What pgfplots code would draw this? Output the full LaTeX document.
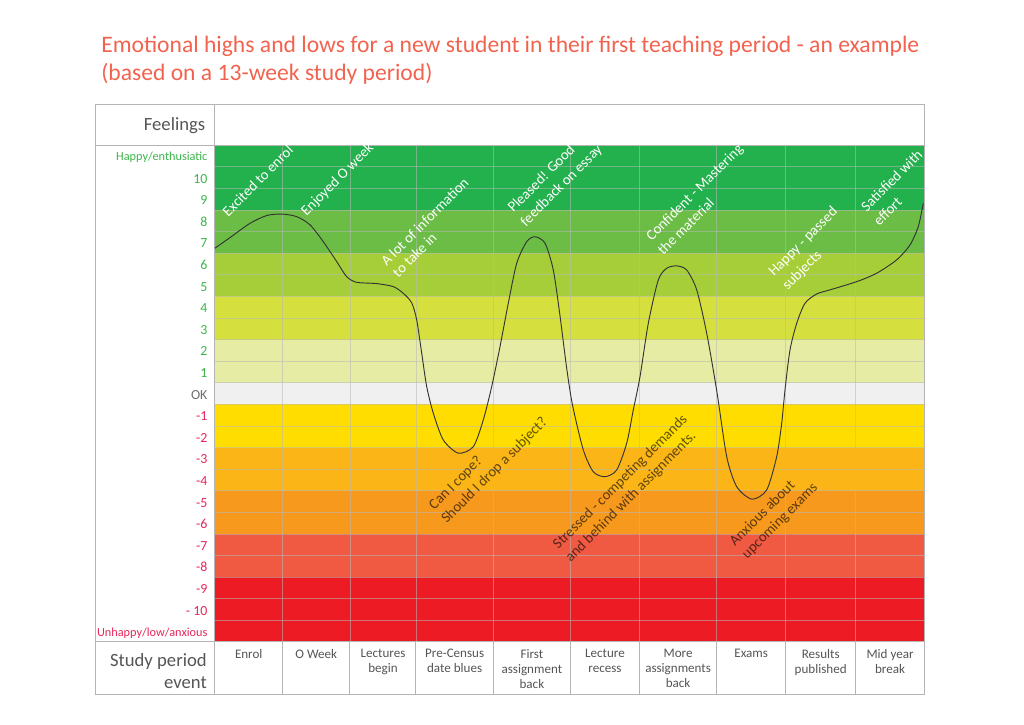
\documentclass[border=0pt]{standalone}
\usepackage{pgfplots}
\pgfplotsset{compat=1.18}
\usepackage{fontspec}
\setmainfont{Carlito}
\definecolor{bA}{HTML}{22B14C}
\definecolor{bB}{HTML}{6BBD45}
\definecolor{bC}{HTML}{A6CE39}
\definecolor{bD}{HTML}{D5DF3E}
\definecolor{bE}{HTML}{E6ECA4}
\definecolor{bF}{HTML}{F0F0F0}
\definecolor{bG}{HTML}{FFDD00}
\definecolor{bH}{HTML}{FCB517}
\definecolor{bI}{HTML}{F7991D}
\definecolor{bJ}{HTML}{F05A42}
\definecolor{bK}{HTML}{ED1C24}
\definecolor{titlec}{HTML}{F2634F}
\definecolor{posc}{HTML}{3BB54A}
\definecolor{negc}{HTML}{E5265B}
\definecolor{okc}{HTML}{6E6E6E}
\definecolor{labc}{HTML}{555555}
\definecolor{framec}{HTML}{B4B4B4}
\definecolor{curvec}{HTML}{333333}
\tikzset{
  annW/.style={rotate=45, anchor=base west, inner sep=0pt, text=white, font=\fontsize{11pt}{13pt}\selectfont},
  annD/.style={rotate=45, anchor=base west, inner sep=0pt, text=black, text opacity=0.62, font=\fontsize{11pt}{13pt}\selectfont},
  ylab/.style={anchor=base east, inner sep=0pt, font=\fontsize{9.2pt}{11pt}\selectfont},
  ynum/.style={anchor=base east, inner sep=0pt, font=\fontsize{10.4pt}{12pt}\selectfont},
  xlab/.style={anchor=north, inner sep=0pt, align=center, text=labc, font=\fontsize{9.8pt}{11.25pt}\selectfont},
  gridl/.style={draw=gray!55, draw opacity=0.55, line width=0.6pt},
  framel/.style={draw=framec, line width=0.75pt},
}
\begin{document}
\begin{tikzpicture}
\begin{axis}[
  width=532.125pt, height=372.6pt, scale only axis,
  xmin=215, xmax=924.5, ymin=-11.5, ymax=11.5,
  hide axis, clip=false]
\path (axis cs:0,18.22) rectangle (axis cs:1024,-15.30);
% colour bands
\fill[bA] (axis cs:215,8.5) rectangle (axis cs:924.5,11.5);
\fill[bB] (axis cs:215,6.5) rectangle (axis cs:924.5,8.5);
\fill[bC] (axis cs:215,4.5) rectangle (axis cs:924.5,6.5);
\fill[bD] (axis cs:215,2.5) rectangle (axis cs:924.5,4.5);
\fill[bE] (axis cs:215,0.5) rectangle (axis cs:924.5,2.5);
\fill[bF] (axis cs:215,-0.5) rectangle (axis cs:924.5,0.5);
\fill[bG] (axis cs:215,-2.5) rectangle (axis cs:924.5,-0.5);
\fill[bH] (axis cs:215,-4.5) rectangle (axis cs:924.5,-2.5);
\fill[bI] (axis cs:215,-6.5) rectangle (axis cs:924.5,-4.5);
\fill[bJ] (axis cs:215,-8.5) rectangle (axis cs:924.5,-6.5);
\fill[bK] (axis cs:215,-11.5) rectangle (axis cs:924.5,-8.5);
% grid
\pgfplotsinvokeforeach{10.5,9.5,8.5,7.5,6.5,5.5,4.5,3.5,2.5,1.5,0.5,-0.5,-1.5,-2.5,-3.5,-4.5,-5.5,-6.5,-7.5,-8.5,-9.5,-10.5}{
  \draw[gridl] (axis cs:215,#1) -- (axis cs:924.5,#1);
}
\pgfplotsinvokeforeach{282.5,350,416,493.3,570.5,639.5,716.7,785.7,855.7}{
  \draw[gridl] (axis cs:#1,11.5) -- (axis cs:#1,-11.5);
  \draw[framel] (axis cs:#1,-11.5) -- (axis cs:#1,-13.95);
}
% frame
\draw[framel] (axis cs:96,13.36) rectangle (axis cs:924.5,-13.95);
\draw[framel] (axis cs:215,13.36) -- (axis cs:215,-13.95);
\draw[framel] (axis cs:96,11.5) -- (axis cs:924.5,11.5);
\draw[framel] (axis cs:96,-11.5) -- (axis cs:924.5,-11.5);
% curve
\addplot[smooth, tension=0.45, line width=0.7pt, color=curvec] table {
x y
215 6.73
230 7.22
250 7.88
266.7 8.24
281.7 8.31
296.7 8.19
310 7.81
323.3 7.03
336.7 6.11
346.7 5.41
356.7 5.15
376.7 5.09
393.3 4.95
403.3 4.64
411.7 4.20
416.7 3.41
421.7 1.87
426.7 0.32
433.3 -0.91
443.3 -2.15
458.3 -2.76
473.3 -2.46
483.3 -1.22
491.7 0.32
500 2.17
508.3 4.18
516.7 6.03
526.7 7.03
535 7.26
545 6.96
553.3 5.72
560 3.6
566.7 1.17
572.5 -0.53
583.3 -2.61
593.3 -3.62
605 -3.85
616.7 -3.54
626.7 -2.30
633.3 -0.76
640 0.78
648.3 3.25
658.3 5.26
666.7 5.80
676.7 5.91
686.7 5.72
696.7 4.80
706.7 2.79
716.7 0.14
726.7 -2.92
736.7 -4.31
752 -4.89
766.7 -4.46
776.7 -2.92
781.7 -1.38
785 0.17
790 2.02
796.7 3.25
805 4.18
816.7 4.61
830 4.80
856.7 5.18
876.7 5.57
896.7 6.19
910 6.88
918.3 7.73
923.3 8.81
};
% annotations (upper, white)
\node[annW] at (axis cs:228.3,8.16) {Excited to enrol};
\node[annW] at (axis cs:306.5,8.19) {Enjoyed O week};
\node[annW] at (axis cs:386.7,5.87) {A lot of information};
\node[annW] at (axis cs:398.3,5.34) {to take in};
\node[annW] at (axis cs:513.3,8.35) {Pleased! Good};
\node[annW] at (axis cs:526,7.70) {feedback on essay};
\node[annW] at (axis cs:651.7,7.03) {Confident - Mastering};
\node[annW] at (axis cs:663.3,6.37) {the material};
\node[annW] at (axis cs:774,5.41) {Happy - passed};
\node[annW] at (axis cs:787.7,4.76) {subjects};
\node[annW] at (axis cs:866.7,8.38) {Satisfied with};
\node[annW] at (axis cs:879.3,7.73) {effort};
% annotations (lower, dark)
\node[annD] at (axis cs:434.3,-5.42) {Can I cope?};
\node[annD] at (axis cs:446.7,-6.04) {Should I drop a subject?};
\node[annD] at (axis cs:558.3,-7.24) {Stressed - competing demands};
\node[annD] at (axis cs:570.7,-7.83) {and behind with assignments.};
\node[annD] at (axis cs:735,-7.09) {Anxious about};
\node[annD] at (axis cs:747.3,-7.67) {upcoming exams};
% y labels
\node[ylab, text=posc] at (axis cs:207.7,10.78) {Happy/enthusiatic};
\node[ynum, text=posc] at (axis cs:207.7,9.74) {10};
\node[ynum, text=posc] at (axis cs:207.7,8.74) {9};
\node[ynum, text=posc] at (axis cs:207.7,7.74) {8};
\node[ynum, text=posc] at (axis cs:207.7,6.74) {7};
\node[ynum, text=posc] at (axis cs:207.7,5.74) {6};
\node[ynum, text=posc] at (axis cs:207.7,4.74) {5};
\node[ynum, text=posc] at (axis cs:207.7,3.74) {4};
\node[ynum, text=posc] at (axis cs:207.7,2.74) {3};
\node[ynum, text=posc] at (axis cs:207.7,1.74) {2};
\node[ynum, text=posc] at (axis cs:207.7,0.74) {1};
\node[ynum, text=okc] at (axis cs:207.7,-0.26) {OK};
\node[ynum, text=negc] at (axis cs:207.7,-1.26) {-1};
\node[ynum, text=negc] at (axis cs:207.7,-2.26) {-2};
\node[ynum, text=negc] at (axis cs:207.7,-3.26) {-3};
\node[ynum, text=negc] at (axis cs:207.7,-4.26) {-4};
\node[ynum, text=negc] at (axis cs:207.7,-5.26) {-5};
\node[ynum, text=negc] at (axis cs:207.7,-6.26) {-6};
\node[ynum, text=negc] at (axis cs:207.7,-7.26) {-7};
\node[ynum, text=negc] at (axis cs:207.7,-8.26) {-8};
\node[ynum, text=negc] at (axis cs:207.7,-9.26) {-9};
\node[ynum, text=negc] at (axis cs:207.7,-10.26) {- 10};
\node[ylab, text=negc] at (axis cs:207.7,-11.25) {Unhappy/low/anxious};
% header texts
\node[anchor=base east, inner sep=0pt, text=labc, font=\fontsize{14pt}{16pt}\selectfont] at (axis cs:205.5,12.17) {Feelings};
\node[anchor=base east, inner sep=0pt, text=labc, font=\fontsize{14pt}{16pt}\selectfont] at (axis cs:207,-12.64) {Study period};
\node[anchor=base east, inner sep=0pt, text=labc, font=\fontsize{14pt}{16pt}\selectfont] at (axis cs:207,-13.64) {event};
% x labels
\node[xlab] at (axis cs:248.75,-11.82) {Enrol};
\node[xlab] at (axis cs:316.25,-11.82) {O Week};
\node[xlab] at (axis cs:383,-11.82) {Lectures\\begin};
\node[xlab] at (axis cs:454.65,-11.82) {Pre-Census\\date blues};
\node[xlab] at (axis cs:531.9,-11.82) {First\\assignment\\back};
\node[xlab] at (axis cs:605,-11.82) {Lecture\\recess};
\node[xlab] at (axis cs:678.1,-11.82) {More\\assignments\\back};
\node[xlab] at (axis cs:751.2,-11.82) {Exams};
\node[xlab] at (axis cs:820.7,-11.82) {Results\\published};
\node[xlab] at (axis cs:890.1,-11.82) {Mid year\\break};
% title
\node[anchor=base west, inner sep=0pt, text=titlec, font=\fontsize{17.7pt}{20pt}\selectfont] at (axis cs:101,15.81) {Emotional highs and lows for a new student in their first teaching period - an example};
\node[anchor=base west, inner sep=0pt, text=titlec, font=\fontsize{17.7pt}{20pt}\selectfont] at (axis cs:101,14.47) {(based on a 13-week study period)};
\end{axis}
\end{tikzpicture}
\end{document}
